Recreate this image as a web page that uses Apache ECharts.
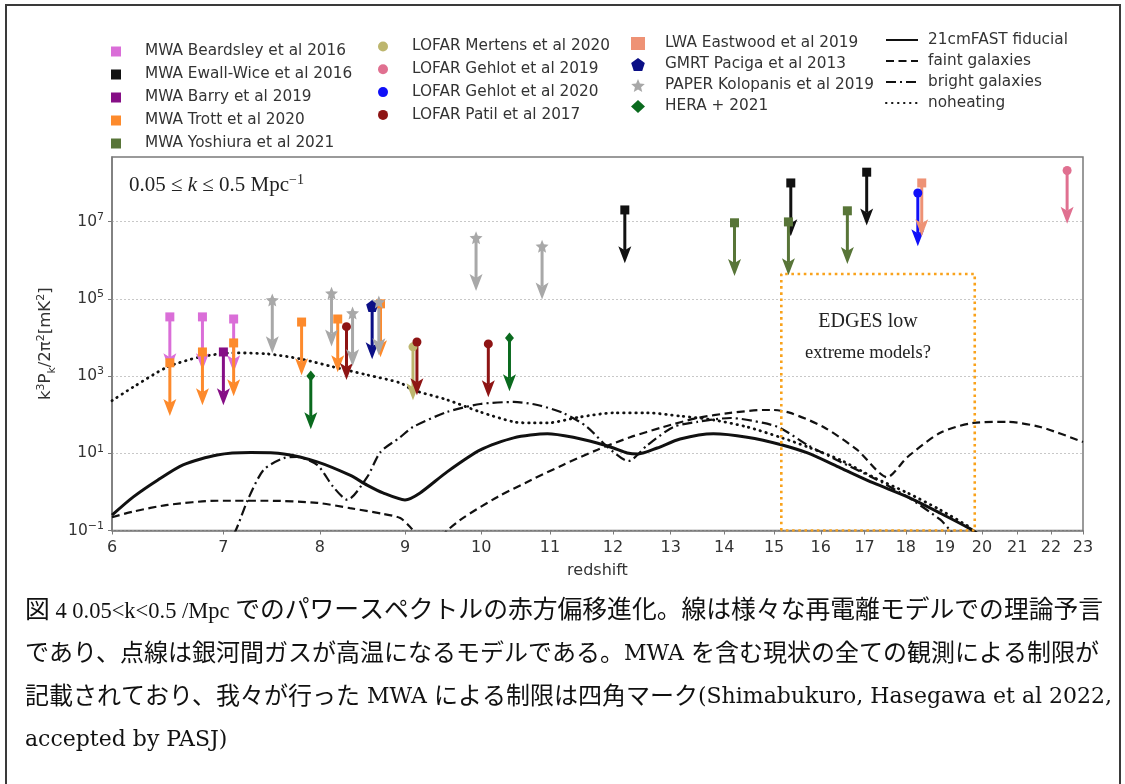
<!DOCTYPE html>
<html>
<head>
<meta charset="utf-8">
<script src="https://cdn.jsdelivr.net/npm/echarts@6/dist/echarts.min.js"></script>
<style>
  html, body { margin: 0; padding: 0; background: #ffffff; }
  #chart { width: 1125px; height: 784px; }
</style>
</head>
<body>
<div id="chart"></div>
<script>
// ---- axis ticks ----
const X_TICKS = [6, 7, 8, 9, 10, 11, 12, 13, 14, 15, 16, 17, 18, 19, 20, 21, 22, 23];
const Y_TICK_EXP = [-1, 1, 3, 5, 7];
const Y_MIN = 0.1;
const Y_MAX = 4.7e8;

// ---- upper limits on k^3 P(k) / 2pi^2 [mK^2] ----
const BEARDSLEY_Z = [6.5, 6.8, 7.1];
const BEARDSLEY_P = [3.4e4, 3.4e4, 3.0e4];
const EWALLWICE_Z = [12.2, 15.35, 17.05];
const EWALLWICE_P = [2.0e7, 1.0e8, 1.9e8];
const BARRY_Z = [7.0];
const BARRY_P = [4.2e3];
const TROTT_Z = [6.5, 6.8, 7.1, 7.8, 8.2, 8.7];
const TROTT_P = [2.2e3, 4.2e3, 7.2e3, 2.5e4, 3.0e4, 7.4e4];
const YOSHIURA_Z = [14.2, 15.3, 16.6];
const YOSHIURA_P = [9.3e6, 9.8e6, 1.9e7];
const MERTENS_Z = [9.1];
const MERTENS_P = [5.7e3];
const GEHLOT19_Z = [22.5];
const GEHLOT19_P = [2.1e8];
const GEHLOT20_Z = [18.3];
const GEHLOT20_P = [5.5e7];
const PATIL_Z = [8.3, 9.15, 10.1];
const PATIL_P = [1.9e4, 7.6e3, 6.8e3];
const EASTWOOD_Z = [18.4];
const EASTWOOD_P = [1.0e8];
const PACIGA_Z = [8.6];
const PACIGA_P = [6.5e4];
const KOLOPANIS_Z = [7.49, 8.13, 8.37, 8.68, 9.93, 10.88];
const KOLOPANIS_P = [9.3e4, 1.4e5, 4.3e4, 8.3e4, 3.8e6, 2.3e6];
const HERA_Z = [7.9, 10.4];
const HERA_P = [1.0e3, 9.7e3];

// ---- model curves ----
const FIDUCIAL_Z = [6.0, 6.18, 6.39, 6.62, 6.94, 7.27, 7.61, 7.97, 8.34, 8.54, 8.73, 9.0, 9.19, 9.54, 9.99, 10.46, 10.96, 11.36, 11.74, 12.01, 12.24, 12.43, 12.76, 13.17, 13.79, 14.45, 15.17, 15.71, 16.44, 17.21, 18.04, 18.88, 19.68, 19.9];
const FIDUCIAL_P = [0.25, 0.74, 2.0, 5.0, 9.0, 10.4, 9.6, 6.0, 2.7, 1.5, 0.94, 0.62, 0.94, 3.3, 12.2, 25, 32, 26, 18.5, 13.7, 10.2, 9.6, 13.7, 23.4, 32, 26, 16.4, 10.2, 4.2, 1.7, 0.74, 0.28, 0.11, 0.08];

const FAINT_Z = [6.0, 6.18, 6.48, 6.94, 7.44, 7.97, 8.34, 8.73, 8.94, 9.07, 9.3, 9.54, 9.75, 10.23, 10.71, 11.2, 11.74, 12.29, 12.87, 13.49, 14.12, 14.78, 14.98, 15.34, 16.06, 16.83, 17.54, 18.04, 18.88, 19.76, 20.71, 21.68, 23.0];
const FAINT_P = [0.22, 0.31, 0.46, 0.59, 0.59, 0.52, 0.38, 0.27, 0.21, 0.12, 0.035, 0.10, 0.21, 0.74, 2.0, 5.0, 12.2, 26, 48, 82, 111, 132, 132, 111, 48, 12.2, 2.4, 8.0, 34, 61, 65, 48, 19.6];

const BRIGHT_Z = [7.0, 7.12, 7.24, 7.4, 7.61, 7.75, 7.97, 8.15, 8.31, 8.54, 8.7, 8.94, 9.1, 9.54, 9.99, 10.46, 10.81, 11.2, 11.58, 11.91, 12.26, 12.59, 13.05, 13.49, 14.12, 14.78, 15.13, 15.71, 16.44, 17.21, 18.04, 18.88, 19.14, 19.4];
const BRIGHT_P = [0.03, 0.10, 0.62, 3.7, 7.5, 8.0, 5.0, 1.34, 0.62, 2.4, 10.8, 26, 48, 117, 189, 213, 178, 111, 48, 14.6, 6.3, 16.4, 48, 65, 82, 61, 45, 16.4, 6.0, 2.3, 0.74, 0.19, 0.10, 0.05];

const NOHEAT_Z = [6.0, 6.18, 6.48, 6.78, 7.1, 7.44, 7.79, 8.15, 8.54, 8.94, 9.1, 9.54, 9.99, 10.46, 10.71, 10.96, 11.47, 12.01, 12.59, 13.17, 13.79, 14.45, 15.17, 15.71, 16.44, 17.21, 18.04, 18.88, 19.68];
const NOHEAT_P = [230, 522, 1720, 3130, 3970, 3740, 2770, 1720, 1070, 665, 436, 242, 117, 65, 61, 61, 87, 111, 111, 92, 73, 48, 25, 14.6, 6.7, 2.4, 0.94, 0.34, 0.12];

// ---- EDGES region ----
const EDGES_Z = [15.15, 19.8];
const EDGES_TOP = 4.4e5;

// ---- drawing constants ----
const ARROW_DECADES = 1.38;   // length of an upper-limit arrow, in decades
const HEAD_LEN = 17;
const HEAD_HALF = 6.5;
const STAR = 'path://M0,-1L0.2645,-0.364L0.951,-0.309L0.428,0.139L0.588,0.809L0,0.45L-0.588,0.809L-0.428,0.139L-0.951,-0.309L-0.2645,-0.364Z';
const PENTAGON = 'path://M0,-1L0.951,-0.309L0.588,0.809L-0.588,0.809L-0.951,-0.309Z';

const lg = Math.log10;
const pts = (zs, ps) => zs.map((z, i) => [lg(z), lg(ps[i])]);

const LIMITS = [
  { name: 'MWA Beardsley et al 2016', z: BEARDSLEY_Z, p: BEARDSLEY_P, color: '#DA6ED8', symbol: 'rect', size: 9 },
  { name: 'MWA Ewall-Wice et al 2016', z: EWALLWICE_Z, p: EWALLWICE_P, color: '#111111', symbol: 'rect', size: 9 },
  { name: 'MWA Barry et al 2019', z: BARRY_Z, p: BARRY_P, color: '#860F86', symbol: 'rect', size: 9 },
  { name: 'MWA Trott et al 2020', z: TROTT_Z, p: TROTT_P, color: '#FD8A2C', symbol: 'rect', size: 9 },
  { name: 'MWA Yoshiura et al 2021', z: YOSHIURA_Z, p: YOSHIURA_P, color: '#587538', symbol: 'rect', size: 9 },
  { name: 'LOFAR Mertens et al 2020', z: MERTENS_Z, p: MERTENS_P, color: '#BDB66E', symbol: 'circle', size: 9 },
  { name: 'LOFAR Gehlot et al 2019', z: GEHLOT19_Z, p: GEHLOT19_P, color: '#E07090', symbol: 'circle', size: 9 },
  { name: 'LOFAR Gehlot et al 2020', z: GEHLOT20_Z, p: GEHLOT20_P, color: '#1010F8', symbol: 'circle', size: 9 },
  { name: 'LOFAR Patil et al 2017', z: PATIL_Z, p: PATIL_P, color: '#8E1414', symbol: 'circle', size: 9 },
  { name: 'LWA Eastwood et al 2019', z: EASTWOOD_Z, p: EASTWOOD_P, color: '#EE9275', symbol: 'rect', size: 9 },
  { name: 'GMRT Paciga et al 2013', z: PACIGA_Z, p: PACIGA_P, color: '#0B0F86', symbol: PENTAGON, size: 12 },
  { name: 'PAPER Kolopanis et al 2019', z: KOLOPANIS_Z, p: KOLOPANIS_P, color: '#A8A8A8', symbol: STAR, size: 13 },
  { name: 'HERA + 2021', z: HERA_Z, p: HERA_P, color: '#0A6A1E', symbol: 'diamond', size: [9, 11] }
];

const MODELS = [
  { name: '21cmFAST fiducial', z: FIDUCIAL_Z, p: FIDUCIAL_P, width: 3, type: 'solid', cap: 'butt' },
  { name: 'faint galaxies', z: FAINT_Z, p: FAINT_P, width: 2.2, type: [8, 4.5], cap: 'butt' },
  { name: 'bright galaxies', z: BRIGHT_Z, p: BRIGHT_P, width: 2.2, type: [10, 4, 2, 4], cap: 'butt' },
  { name: 'noheating', z: NOHEAT_Z, p: NOHEAT_P, width: 2.8, type: [0.5, 5.5], cap: 'round' }
];

// Figure caption, one entry per printed line (rich-text segments)
const CAPTION_LINES = [
  '{j1|図}{t| 4 0.05<k<0.5 /Mpc }{j1|でのパワースペクトルの赤方偏移進化。線は様々な再電離モデルでの理論予言}',
  '{j|であり、点線は銀河間ガスが高温になるモデルである。}{l|MWA }{j|を含む現状の全ての観測による制限が}',
  '{j|記載されており、我々が行った}{l| MWA }{j|による制限は四角マーク}{l|(Shimabukuro, Hasegawa et al 2022,}',
  '{l|accepted by PASJ)}'
];

const series = [];

MODELS.forEach(m => {
  series.push({
    type: 'line', name: m.name, data: pts(m.z, m.p), symbol: 'none', smooth: 0.25,
    lineStyle: { color: '#111111', width: m.width, type: m.type, cap: m.cap },
    itemStyle: { color: '#111111' }, silent: true, z: 2
  });
});

// EDGES low extreme-model region, drawn as a dotted rectangle
series.push({
  type: 'line', name: 'EDGES region', silent: true, symbol: 'none', z: 3,
  data: [[lg(EDGES_Z[0]), lg(Y_MIN)], [lg(EDGES_Z[0]), lg(EDGES_TOP)], [lg(EDGES_Z[1]), lg(EDGES_TOP)], [lg(EDGES_Z[1]), lg(Y_MIN)], [lg(EDGES_Z[0]), lg(Y_MIN)]],
  lineStyle: { color: '#F9A21B', width: 2.6, type: [2.6, 3.6] }
});

LIMITS.forEach(g => {
  const data = pts(g.z, g.p);
  series.push({
    type: 'custom', name: g.name + ' (limit)', silent: true, z: 4, data: data,
    encode: { x: 0, y: 1 },
    renderItem: function (params, api) {
      const x = api.value(0), y = api.value(1);
      const top = api.coord([x, y]);
      const tip = api.coord([x, y - ARROW_DECADES]);
      const base = tip[1] - HEAD_LEN;
      return {
        type: 'group',
        children: [
          { type: 'line', shape: { x1: top[0], y1: top[1], x2: top[0], y2: base + 4 }, style: { stroke: g.color, lineWidth: 3 } },
          { type: 'polygon', shape: { points: [[tip[0] - HEAD_HALF, base], [tip[0], base + 4], [tip[0] + HEAD_HALF, base], [tip[0], tip[1]]] }, style: { fill: g.color } }
        ]
      };
    }
  });
  series.push({
    type: 'scatter', name: g.name, data: data, symbol: g.symbol, symbolSize: g.size,
    itemStyle: { color: g.color, opacity: 1 }, silent: true, z: 5
  });
});

const legendText = pad => ({ fontFamily: 'DejaVu Sans', fontSize: 15.3, color: '#333333', lineHeight: 17, padding: [0, 0, 0, pad] });
const SUPER = { fontFamily: 'DejaVu Sans', fontSize: 11, color: '#333333', verticalAlign: 'top', lineHeight: 12 };

const option = {
  animation: false,
  backgroundColor: '#ffffff',
  grid: { left: 112, right: 42, top: 157, bottom: 253.5, show: true, borderColor: '#7a7a7a', borderWidth: 1.5, backgroundColor: 'transparent' },
  xAxis: {
    type: 'value', min: lg(X_TICKS[0]), max: lg(X_TICKS[X_TICKS.length - 1]),
    name: 'redshift', nameLocation: 'middle', nameGap: 32,
    nameTextStyle: { fontFamily: 'DejaVu Sans', fontSize: 16, color: '#333333' },
    axisLine: { show: true, onZero: false, lineStyle: { color: '#7a7a7a', width: 1.5 } },
    axisTick: { show: true, inside: false, length: 4, customValues: X_TICKS.map(lg), lineStyle: { color: '#7a7a7a' } },
    axisLabel: { customValues: X_TICKS.map(lg), margin: 9, fontFamily: 'DejaVu Sans', fontSize: 16, color: '#333333',
      formatter: v => String(Math.round(Math.pow(10, v))) },
    splitLine: { show: false }
  },
  yAxis: {
    type: 'value', min: lg(Y_MIN), max: lg(Y_MAX),
    name: '{a|k}{s|3}{a|P}{b|k}{a|/2\u03C0}{s|2}{a|[mK}{s|2}{a|]}', nameLocation: 'middle', nameGap: 50, nameRotate: 90,
    nameTextStyle: {
      fontFamily: 'DejaVu Sans', fontSize: 16, color: '#333333',
      rich: {
        a: { fontFamily: 'DejaVu Sans', fontSize: 16.5, color: '#333333', lineHeight: 22 },
        s: SUPER,
        b: { fontFamily: 'DejaVu Sans', fontSize: 11, color: '#333333', verticalAlign: 'bottom', lineHeight: 12 }
      }
    },
    axisLine: { show: true, onZero: false, lineStyle: { color: '#7a7a7a', width: 1.5 } },
    axisTick: { show: true, inside: false, length: 4, customValues: Y_TICK_EXP, lineStyle: { color: '#7a7a7a' } },
    axisLabel: { customValues: Y_TICK_EXP, margin: 8, fontFamily: 'DejaVu Sans', fontSize: 15.5, color: '#333333',
      formatter: v => '{b|10}{s|' + (Math.round(v) < 0 ? '\u2212' + Math.abs(Math.round(v)) : Math.round(v)) + '}',
      rich: { b: { fontFamily: 'DejaVu Sans', fontSize: 15.5, color: '#333333', lineHeight: 20 }, s: SUPER } },
    splitLine: { show: true, lineStyle: { color: '#c8c8c8', width: 1, type: [2, 2] } }
  },
  legend: [
    { orient: 'vertical', left: 111, top: 43, padding: 0, itemWidth: 10, itemHeight: 10, itemGap: 6, selectedMode: false,
      data: LIMITS.slice(0, 5).map(g => g.name), textStyle: legendText(19) },
    { orient: 'vertical', left: 378, top: 38, padding: 0, itemWidth: 10, itemHeight: 10, itemGap: 5.8, selectedMode: false,
      data: LIMITS.slice(5, 9).map(g => g.name), textStyle: legendText(19) },
    { orient: 'vertical', left: 631, top: 35, padding: 0, itemWidth: 14, itemHeight: 13, itemGap: 4, selectedMode: false,
      data: LIMITS.slice(9).map(g => g.name), textStyle: legendText(15) },
    { orient: 'vertical', left: 885, top: 31.5, padding: 0, itemWidth: 32, itemHeight: 12, itemGap: 4, selectedMode: false,
      itemStyle: { opacity: 0 },
      data: MODELS.map(m => m.name), textStyle: legendText(5) }
  ],
  graphic: [
    { type: 'polyline', shape: { points: [[6, 784], [6, 5], [1120, 5], [1120, 784]] }, style: { stroke: '#3a3a3a', lineWidth: 2, fill: null }, silent: true },
    { type: 'text', x: 129, y: 185, silent: true,
      style: { text: '{r|0.05 \u2264 }{i|k}{r| \u2264 0.5 Mpc}{s|\u22121}', verticalAlign: 'middle',
        rich: {
          r: { fontFamily: 'Liberation Serif', fontSize: 21, fill: '#222222', lineHeight: 24 },
          i: { fontFamily: 'Liberation Serif', fontStyle: 'italic', fontSize: 21, fill: '#222222', lineHeight: 24 },
          s: { fontFamily: 'Liberation Serif', fontSize: 14, fill: '#222222', verticalAlign: 'top', lineHeight: 14 }
        } } },
    { type: 'text', x: 868, y: 322, silent: true,
      style: { text: 'EDGES low', align: 'center', verticalAlign: 'middle', fontFamily: 'Liberation Serif', fontSize: 20, fill: '#222222' } },
    { type: 'text', x: 868, y: 353, silent: true,
      style: { text: 'extreme models?', align: 'center', verticalAlign: 'middle', fontFamily: 'Liberation Serif', fontSize: 18.5, fill: '#222222' } },
    { type: 'group', silent: true, children: CAPTION_LINES.map((t, i) => ({
      type: 'text', x: 25, y: 609 + i * 42.7,
      style: {
        text: t, verticalAlign: 'middle',
        rich: {
          j: { fontFamily: 'Noto Sans CJK JP', fontSize: 24, fill: '#111111', lineHeight: 30 },
          j1: { fontFamily: 'Noto Sans CJK JP', fontSize: 24.8, fill: '#111111', lineHeight: 30 },
          t: { fontFamily: 'Liberation Serif', fontSize: 22.5, fill: '#111111', lineHeight: 30, padding: [6, 0, 0, 0] },
          l: { fontFamily: 'DejaVu Serif', fontSize: 22, fill: '#111111', lineHeight: 30, padding: [6, 0, 0, 0] }
        }
      }
    })) }
  ],
  series: series
};

const chart = echarts.init(document.getElementById('chart'), null, { renderer: 'canvas' });
chart.setOption(option);
</script>
</body>
</html>
